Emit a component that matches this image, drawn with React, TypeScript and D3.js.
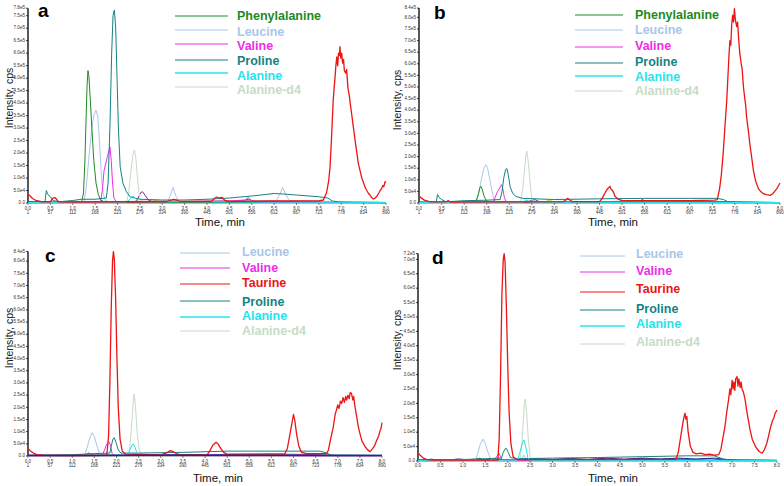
import React from 'react';
import * as d3 from 'd3';

type Pt = [number, number];

// ---------- shared tick labels ----------
const minuteTicks = [0, 0.5, 1, 1.5, 2, 2.5, 3, 3.5, 4, 4.5, 5, 5.5, 6, 6.5, 7, 7.5, 8];
const minuteLabels = ['0.0', '0.5', '1.0', '1.5', '2.0', '2.5', '3.0', '3.5', '4.0', '4.5', '5.0', '5.5', '6.0', '6.5', '7.0', '7.5', '8.0'];
const scanLabels = ['1', '57', '112', '168', '223', '279', '334', '390', '445', '501', '556', '612', '667', '723', '778', '834', '890'];

const yTicksA = [0, 0.5, 1, 1.5, 2, 2.5, 3, 3.5, 4, 4.5, 5, 5.5, 6, 6.5, 7, 7.5, 7.8];
const yTicksB = [0, 0.5, 1, 1.5, 2, 2.5, 3, 3.5, 4, 4.5, 5, 5.5, 6, 6.5, 7, 7.5, 8, 8.4];
const yTicksC = [0, 0.5, 1, 1.5, 2, 2.5, 3, 3.5, 4, 4.5, 5, 5.5, 6, 6.5, 7, 7.5, 8, 8.4];
const yTicksD = [0, 0.5, 1, 1.5, 2, 2.5, 3, 3.5, 4, 4.5, 5, 5.5, 6, 6.5, 7, 7.2];

const legendAB = ['Phenylalanine', 'Leucine', 'Valine', 'Proline', 'Alanine', 'Alanine-d4'];
const legendCD = ['Leucine', 'Valine', 'Taurine', 'Proline', 'Alanine', 'Alanine-d4'];

// ---------- panel a (intensity in 1e5 cps) ----------
const aNavy: Pt[] = [[0, 0.05], [0.3, 0.03], [0.8, 0.04], [1.5, 0.05], [2.2, 0.04], [3, 0.06], [4, 0.05], [5, 0.07], [6, 0.06], [6.8, 0.05], [7.2, 0.03], [8, 0.02]];
const aPurple: Pt[] = [[0, 0.03], [1.2, 0.04], [2.4, 0.05], [2.46, 0.2], [2.52, 0.42], [2.56, 0.45], [2.62, 0.3], [2.7, 0.1], [2.8, 0.05], [3.5, 0.06], [4.5, 0.08], [4.85, 0.1], [4.92, 0.15], [5.0, 0.08], [6, 0.06], [6.8, 0.05], [7.2, 0.02], [8, 0.02]];
const aLime: Pt[] = [[0, 0.01], [2.0, 0.02], [4, 0.02], [6, 0.02], [8, 0.01]];
const aYellow: Pt[] = [[2.7, 0.02], [2.8, 0.08], [2.86, 0.12], [2.92, 0.06], [3.0, 0.02]];
const aTau: Pt[] = [[0, 0.35], [0.05, 0.28], [0.1, 0.18], [0.18, 0.1], [0.3, 0.05], [0.5, 0.05], [0.56, 0.2], [0.6, 0.22], [0.64, 0.15], [0.68, 0.05], [1.0, 0.04], [2.0, 0.05], [3.1, 0.06], [3.2, 0.12], [3.26, 0.15], [3.32, 0.12], [3.4, 0.06], [4.1, 0.06], [4.16, 0.18], [4.22, 0.24], [4.28, 0.2], [4.34, 0.22], [4.4, 0.1], [4.5, 0.06], [5.5, 0.08], [6.5, 0.08], [6.6, 0.12], [6.67, 0.4], [6.72, 0.9], [6.75, 1.45], [6.78, 2.5], [6.8, 3.3], [6.82, 4.1], [6.84, 4.6], [6.86, 5.0], [6.88, 5.5], [6.9, 5.85], [6.92, 5.5], [6.94, 6.0], [6.96, 5.9], [6.97, 6.26], [6.99, 5.8], [7.01, 6.0], [7.03, 5.6], [7.05, 5.75], [7.07, 5.3], [7.1, 5.2], [7.12, 5.35], [7.15, 4.6], [7.18, 4.3], [7.2, 4.0], [7.23, 3.6], [7.27, 3.05], [7.31, 2.5], [7.35, 2.0], [7.38, 1.6], [7.42, 1.3], [7.46, 1.0], [7.5, 0.8], [7.54, 0.6], [7.57, 0.5], [7.61, 0.38], [7.65, 0.3], [7.69, 0.2], [7.72, 0.16], [7.76, 0.2], [7.8, 0.28], [7.84, 0.4], [7.87, 0.5], [7.9, 0.58], [7.93, 0.7], [7.95, 0.65], [7.98, 0.85], [8.0, 0.82]];
const aPhe: Pt[] = [[0, 0.02], [0.5, 0.02], [1.0, 0.03], [1.2, 0.05], [1.24, 0.4], [1.27, 1.6], [1.3, 3.5], [1.32, 4.7], [1.34, 5.3], [1.36, 5.1], [1.39, 4.2], [1.43, 2.9], [1.47, 1.7], [1.52, 0.8], [1.57, 0.35], [1.62, 0.12], [1.7, 0.05], [2.0, 0.03], [3.0, 0.02], [5.0, 0.02], [7.0, 0.02], [8.0, 0.01]];
const aLeu: Pt[] = [[0, 0.02], [1.0, 0.03], [1.25, 0.05], [1.3, 0.6], [1.36, 1.8], [1.42, 2.9], [1.47, 3.5], [1.52, 3.72], [1.56, 3.45], [1.6, 2.4], [1.64, 1.1], [1.68, 0.35], [1.74, 0.08], [1.85, 0.05], [3.12, 0.05], [3.18, 0.3], [3.24, 0.62], [3.3, 0.3], [3.37, 0.06], [5.55, 0.1], [5.63, 0.35], [5.69, 0.62], [5.76, 0.35], [5.84, 0.1], [7, 0.05], [8, 0.03]];
const aVal: Pt[] = [[0, 0.01], [1.0, 0.02], [1.62, 0.03], [1.66, 0.5], [1.7, 1.3], [1.74, 1.6], [1.78, 1.9], [1.81, 2.1], [1.83, 2.25], [1.86, 1.7], [1.89, 0.8], [1.92, 0.2], [1.97, 0.05], [3.0, 0.05], [4.5, 0.08], [4.85, 0.12], [4.92, 0.22], [5.0, 0.1], [5.2, 0.03], [8, 0.02]];
const aPro: Pt[] = [[0, 0.05], [0.38, 0.05], [0.41, 0.5], [0.44, 0.35], [0.5, 0.25], [0.56, 0.1], [0.7, 0.05], [1.0, 0.1], [1.2, 0.15], [1.5, 0.15], [1.75, 0.2], [1.79, 0.8], [1.83, 3.0], [1.87, 6.0], [1.9, 7.5], [1.93, 7.73], [1.96, 7.0], [1.99, 5.0], [2.02, 3.0], [2.06, 1.45], [2.12, 0.8], [2.2, 0.45], [2.28, 0.25], [2.5, 0.15], [3.0, 0.12], [3.5, 0.12], [4.0, 0.15], [4.5, 0.2], [5.0, 0.28], [5.3, 0.34], [5.5, 0.38], [5.7, 0.36], [6.0, 0.32], [6.5, 0.25], [6.7, 0.2], [6.8, 0.08], [7.0, 0.03], [8, 0.02]];
const aAla: Pt[] = [[0, 0.02], [2.2, 0.03], [2.28, 0.15], [2.34, 0.28], [2.4, 0.2], [2.46, 0.05], [8, 0.02]];
const aAlaD4: Pt[] = [[0, 0.01], [2.2, 0.02], [2.25, 0.4], [2.3, 1.3], [2.35, 2.0], [2.38, 2.12], [2.41, 1.8], [2.45, 0.9], [2.5, 0.2], [2.56, 0.03], [8, 0.02]];

// ---------- panel b ----------
const bNavy: Pt[] = [[0, 0.04], [0.5, 0.03], [1.5, 0.05], [3, 0.05], [4.5, 0.06], [6, 0.06], [6.9, 0.04], [8, 0.02]];
const bPurple: Pt[] = [[0, 0.03], [2.4, 0.04], [2.5, 0.12], [2.58, 0.14], [2.66, 0.06], [4.0, 0.06], [4.9, 0.08], [4.95, 0.15], [5.02, 0.07], [6.8, 0.05], [7.1, 0.02], [8, 0.02]];
const bLime: Pt[] = [[0, 0.01], [3, 0.02], [5, 0.02], [8, 0.01]];
const bYellow: Pt[] = [[2.75, 0.02], [2.85, 0.1], [2.92, 0.12], [3.0, 0.02]];
const bTau: Pt[] = [[0, 0.3], [0.05, 0.22], [0.12, 0.12], [0.25, 0.05], [0.6, 0.05], [0.65, 0.1], [0.7, 0.04], [2.0, 0.05], [3.2, 0.06], [3.26, 0.14], [3.3, 0.2], [3.34, 0.13], [3.4, 0.06], [4.0, 0.06], [4.06, 0.2], [4.1, 0.35], [4.12, 0.42], [4.14, 0.5], [4.16, 0.55], [4.18, 0.62], [4.2, 0.65], [4.23, 0.72], [4.25, 0.63], [4.26, 0.6], [4.28, 0.55], [4.3, 0.5], [4.32, 0.42], [4.34, 0.3], [4.4, 0.18], [4.5, 0.1], [5, 0.1], [6, 0.1], [6.55, 0.12], [6.61, 0.15], [6.66, 0.6], [6.7, 1.2], [6.74, 2.13], [6.78, 3.3], [6.82, 4.43], [6.85, 5.6], [6.87, 6.4], [6.89, 7.0], [6.91, 6.8], [6.93, 7.7], [6.95, 8.09], [6.97, 7.8], [6.99, 8.38], [7.01, 7.9], [7.04, 7.6], [7.06, 7.8], [7.09, 6.9], [7.11, 6.44], [7.14, 6.0], [7.16, 5.8], [7.19, 5.0], [7.22, 4.5], [7.24, 4.2], [7.26, 3.7], [7.3, 3.1], [7.33, 2.57], [7.37, 2.0], [7.41, 1.41], [7.46, 0.95], [7.52, 0.62], [7.58, 0.48], [7.63, 0.4], [7.7, 0.36], [7.78, 0.33], [7.84, 0.4], [7.89, 0.52], [7.93, 0.62], [7.96, 0.72], [8.0, 0.86]];
const bPhe: Pt[] = [[0, 0.02], [1.2, 0.05], [1.27, 0.1], [1.31, 0.35], [1.35, 0.65], [1.37, 0.72], [1.4, 0.6], [1.44, 0.3], [1.5, 0.08], [1.6, 0.03], [8, 0.02]];
const bLeu: Pt[] = [[0, 0.02], [1.25, 0.05], [1.31, 0.3], [1.37, 0.9], [1.43, 1.45], [1.48, 1.65], [1.52, 1.5], [1.57, 1.0], [1.62, 0.5], [1.67, 0.1], [1.75, 0.03], [8, 0.02]];
const bVal: Pt[] = [[0, 0.02], [1.65, 0.05], [1.69, 0.25], [1.74, 0.5], [1.79, 0.65], [1.83, 0.79], [1.86, 0.6], [1.89, 0.25], [1.93, 0.05], [4.9, 0.05], [4.95, 0.15], [5.0, 0.05], [8, 0.02]];
const bPro: Pt[] = [[0, 0.03], [0.38, 0.03], [0.41, 0.37], [0.44, 0.25], [0.5, 0.15], [0.6, 0.05], [1.0, 0.1], [1.5, 0.12], [1.8, 0.15], [1.84, 0.5], [1.88, 1.1], [1.92, 1.45], [1.95, 1.48], [1.98, 1.2], [2.02, 0.7], [2.08, 0.4], [2.15, 0.28], [2.3, 0.2], [3, 0.15], [4, 0.18], [5, 0.2], [6, 0.2], [6.6, 0.2], [6.75, 0.15], [6.85, 0.05], [8, 0.02]];
const bAla: Pt[] = [[0, 0.02], [2.3, 0.03], [2.36, 0.12], [2.42, 0.1], [2.48, 0.03], [8, 0.02]];
const bAlaD4: Pt[] = [[0, 0.01], [2.25, 0.02], [2.3, 0.6], [2.34, 1.5], [2.37, 2.1], [2.39, 2.24], [2.42, 1.8], [2.46, 0.9], [2.5, 0.2], [2.55, 0.03], [8, 0.02]];

// ---------- panel c ----------
const cNavy: Pt[] = [[0, 0.02], [1, 0.02], [2.5, 0.03], [4, 0.03], [5.5, 0.03], [7, 0.02], [8, 0.02]];
const cPurple: Pt[] = [[0, 0.03], [2.5, 0.04], [3.0, 0.06], [4.5, 0.06], [5.5, 0.08], [6.5, 0.06], [6.9, 0.03], [8, 0.02]];
const cGreen: Pt[] = [[0, 0.02], [1.3, 0.02], [1.34, 0.1], [1.38, 0.13], [1.42, 0.05], [1.5, 0.02], [8, 0.02]];
const cLeu: Pt[] = [[0, 0.02], [1.28, 0.03], [1.33, 0.3], [1.39, 0.7], [1.45, 0.96], [1.5, 0.8], [1.56, 0.4], [1.62, 0.08], [1.7, 0.02], [8, 0.02]];
const cVal: Pt[] = [[0, 0.01], [1.68, 0.02], [1.73, 0.25], [1.78, 0.5], [1.83, 0.59], [1.87, 0.4], [1.9, 0.1], [1.95, 0.02], [8, 0.01]];
const cTau: Pt[] = [[0, 0.3], [0.05, 0.22], [0.12, 0.12], [0.2, 0.06], [0.35, 0.03], [1.0, 0.02], [1.78, 0.03], [1.82, 0.8], [1.85, 3.0], [1.88, 6.0], [1.91, 8.0], [1.93, 8.39], [1.95, 8.1], [1.98, 6.5], [2.01, 4.0], [2.04, 2.0], [2.08, 0.7], [2.13, 0.2], [2.2, 0.08], [3.0, 0.05], [3.12, 0.12], [3.18, 0.18], [3.22, 0.22], [3.28, 0.18], [3.35, 0.1], [3.45, 0.05], [4.05, 0.05], [4.12, 0.25], [4.18, 0.45], [4.25, 0.56], [4.3, 0.48], [4.36, 0.3], [4.42, 0.15], [4.5, 0.08], [5.8, 0.08], [5.86, 0.3], [5.92, 0.9], [5.97, 1.4], [6.0, 1.71], [6.03, 1.45], [6.07, 0.9], [6.12, 0.4], [6.18, 0.15], [6.3, 0.1], [6.75, 0.1], [6.79, 0.25], [6.84, 0.7], [6.9, 1.2], [6.94, 1.7], [6.97, 1.89], [7.0, 2.1], [7.03, 1.95], [7.06, 2.25], [7.09, 2.16], [7.12, 2.4], [7.15, 2.2], [7.18, 2.45], [7.2, 2.3], [7.23, 2.5], [7.26, 2.35], [7.28, 2.6], [7.31, 2.57], [7.34, 2.3], [7.36, 2.45], [7.39, 2.02], [7.43, 1.6], [7.46, 1.25], [7.5, 0.93], [7.55, 0.6], [7.62, 0.38], [7.68, 0.24], [7.73, 0.18], [7.78, 0.28], [7.84, 0.45], [7.88, 0.65], [7.92, 0.8], [7.95, 1.0], [7.98, 1.15], [8.0, 1.37]];
const cPro: Pt[] = [[0, 0.03], [1.0, 0.05], [1.5, 0.1], [1.85, 0.12], [1.88, 0.4], [1.92, 0.7], [1.95, 0.75], [1.99, 0.55], [2.04, 0.25], [2.1, 0.12], [2.5, 0.12], [3.5, 0.15], [4.5, 0.2], [5.5, 0.2], [6.6, 0.2], [6.75, 0.12], [6.85, 0.04], [8, 0.03]];
const cAla: Pt[] = [[0, 0.02], [2.25, 0.03], [2.3, 0.25], [2.35, 0.45], [2.38, 0.49], [2.42, 0.35], [2.47, 0.08], [2.55, 0.02], [8, 0.02]];
const cAlaD4: Pt[] = [[0, 0.01], [2.27, 0.02], [2.31, 0.5], [2.35, 1.5], [2.38, 2.3], [2.4, 2.55], [2.43, 2.0], [2.47, 0.9], [2.52, 0.2], [2.58, 0.03], [8, 0.02]];

// ---------- panel d ----------
const dNavy: Pt[] = [[0, 0.03], [0.3, 0.06], [0.6, 0.02], [0.9, 0.07], [1.2, 0.03], [1.6, 0.06], [2.2, 0.04], [2.6, 0.08], [3.0, 0.05], [3.4, 0.09], [3.8, 0.05], [4.2, 0.1], [4.6, 0.06], [5.0, 0.1], [5.4, 0.07], [5.8, 0.1], [6.2, 0.07], [6.6, 0.1], [6.9, 0.05], [7.2, 0.03], [8, 0.02]];
const dPurple: Pt[] = [[0, 0.02], [0.4, 0.05], [0.8, 0.03], [1.3, 0.06], [2.0, 0.03], [2.4, 0.06], [2.9, 0.03], [3.3, 0.07], [3.7, 0.04], [4.1, 0.08], [4.5, 0.04], [4.9, 0.09], [5.3, 0.05], [5.7, 0.08], [6.1, 0.05], [6.5, 0.08], [6.9, 0.03], [8, 0.02]];
const dGreen: Pt[] = [[0, 0.02], [0.5, 0.05], [0.9, 0.02], [1.3, 0.06], [1.38, 0.1], [1.45, 0.03], [2.1, 0.05], [2.8, 0.02], [3.5, 0.05], [4.5, 0.03], [5.5, 0.05], [6.5, 0.03], [8, 0.02]];
const dLeu: Pt[] = [[0, 0.02], [1.28, 0.03], [1.33, 0.25], [1.39, 0.6], [1.45, 0.76], [1.5, 0.6], [1.56, 0.3], [1.62, 0.06], [1.7, 0.02], [2.3, 0.03], [2.36, 0.2], [2.42, 0.03], [8, 0.02]];
const dVal: Pt[] = [[0, 0.01], [1.7, 0.02], [1.75, 0.15], [1.8, 0.27], [1.84, 0.15], [1.88, 0.03], [8, 0.01]];
const dTau: Pt[] = [[0, 0.28], [0.05, 0.2], [0.12, 0.1], [0.2, 0.05], [0.35, 0.03], [1.78, 0.03], [1.81, 0.8], [1.84, 3.0], [1.87, 5.8], [1.9, 7.0], [1.92, 7.2], [1.94, 6.9], [1.97, 5.3], [2.0, 3.3], [2.03, 1.7], [2.07, 0.6], [2.12, 0.15], [2.2, 0.05], [5.75, 0.06], [5.8, 0.3], [5.86, 0.9], [5.9, 1.3], [5.93, 1.55], [5.95, 1.66], [5.97, 1.45], [5.99, 1.55], [6.02, 1.0], [6.07, 0.5], [6.13, 0.3], [6.2, 0.25], [6.3, 0.27], [6.4, 0.22], [6.5, 0.24], [6.6, 0.2], [6.7, 0.22], [6.75, 0.4], [6.8, 0.85], [6.84, 1.19], [6.88, 1.7], [6.92, 2.12], [6.95, 2.5], [6.97, 2.3], [7.0, 2.81], [7.02, 2.5], [7.04, 2.75], [7.06, 2.45], [7.08, 2.85], [7.11, 2.93], [7.13, 2.6], [7.15, 2.85], [7.18, 2.55], [7.2, 2.75], [7.22, 2.5], [7.25, 2.4], [7.29, 2.12], [7.33, 1.7], [7.37, 1.35], [7.4, 1.08], [7.45, 0.75], [7.52, 0.5], [7.6, 0.33], [7.67, 0.27], [7.72, 0.4], [7.77, 0.6], [7.81, 0.85], [7.86, 1.2], [7.9, 1.4], [7.93, 1.5], [7.96, 1.66], [8.0, 1.77]];
const dPro: Pt[] = [[0, 0.03], [1.0, 0.05], [1.5, 0.08], [1.86, 0.1], [1.9, 0.3], [1.94, 0.42], [1.97, 0.44], [2.01, 0.3], [2.06, 0.12], [2.2, 0.08], [3, 0.1], [4, 0.12], [5, 0.15], [6, 0.18], [6.6, 0.18], [6.75, 0.1], [6.85, 0.03], [8, 0.02]];
const dAla: Pt[] = [[0, 0.02], [2.22, 0.03], [2.27, 0.3], [2.32, 0.6], [2.36, 0.73], [2.4, 0.5], [2.45, 0.1], [2.52, 0.02], [8, 0.02]];
const dAlaD4: Pt[] = [[0, 0.01], [2.27, 0.02], [2.31, 0.5], [2.35, 1.5], [2.37, 2.0], [2.39, 2.15], [2.42, 1.7], [2.46, 0.7], [2.5, 0.15], [2.56, 0.02], [8, 0.01]];

// ---------- styles ----------
const COL: Record<string, string> = {
  Phenylalanine: '#1e8a24',
  Leucine: '#a9c6ea',
  Valine: '#ee2ee8',
  Taurine: '#ee1414',
  Proline: '#158282',
  Alanine: '#26e4ec',
  'Alanine-d4': '#c6dcc6',
  purple: '#7b2a9c',
  navy: '#1c2a90',
  lime: '#7cc242',
  yellow: '#e6d028',
  green: '#2e7d32',
};

type Series = { key: string; pts: Pt[]; w?: number };
type PanelCfg = {
  letter: string;
  xL: number; xR: number; yBase: number; yTop: number; yMax: number;
  yTicks: number[]; scans: boolean;
  series: Series[];
  legend: string[];
  legLineX: [number, number]; legTextX: number; legTextY: number[]; legLineY: number[];
  letterPos: [number, number];
  yLabelPos: [number, number];
  timeLabelPos: [number, number];
};

const panels: PanelCfg[] = [
  {
    letter: 'a', xL: 28, xR: 386, yBase: 203, yTop: 8.2, yMax: 7.8, yTicks: yTicksA, scans: true,
    series: [
      { key: 'lime', pts: aLime }, { key: 'navy', pts: aNavy }, { key: 'purple', pts: aPurple }, { key: 'yellow', pts: aYellow },
      { key: 'Alanine-d4', pts: aAlaD4 }, { key: 'Leucine', pts: aLeu }, { key: 'Phenylalanine', pts: aPhe },
      { key: 'Valine', pts: aVal }, { key: 'Proline', pts: aPro }, { key: 'Alanine', pts: aAla }, { key: 'Taurine', pts: aTau, w: 1.3 },
    ],
    legend: legendAB, legLineX: [175, 228], legTextX: 237,
    legTextY: [17, 33, 47, 62, 77, 91], legLineY: [16, 30, 44, 60, 73, 87],
    letterPos: [38, 17], yLabelPos: [10, 98], timeLabelPos: [220, 223],
  },
  {
    letter: 'b', xL: 419, xR: 780, yBase: 203, yTop: 8.1, yMax: 8.4, yTicks: yTicksB, scans: true,
    series: [
      { key: 'lime', pts: bLime }, { key: 'navy', pts: bNavy }, { key: 'purple', pts: bPurple }, { key: 'yellow', pts: bYellow },
      { key: 'Alanine-d4', pts: bAlaD4 }, { key: 'Leucine', pts: bLeu }, { key: 'Phenylalanine', pts: bPhe },
      { key: 'Valine', pts: bVal }, { key: 'Proline', pts: bPro }, { key: 'Alanine', pts: bAla }, { key: 'Taurine', pts: bTau, w: 1.3 },
    ],
    legend: legendAB, legLineX: [575, 623], legTextX: 635,
    legTextY: [16, 31, 47, 63, 78, 92], legLineY: [15, 30, 47, 63, 76, 91],
    letterPos: [434, 19], yLabelPos: [398, 100], timeLabelPos: [613, 223],
  },
  {
    letter: 'c', xL: 28, xR: 382, yBase: 456, yTop: 251.4, yMax: 8.4, yTicks: yTicksC, scans: true,
    series: [
      { key: 'purple', pts: cPurple }, { key: 'green', pts: cGreen },
      { key: 'Alanine-d4', pts: cAlaD4 }, { key: 'Leucine', pts: cLeu }, { key: 'Valine', pts: cVal },
      { key: 'Proline', pts: cPro }, { key: 'Alanine', pts: cAla }, { key: 'Taurine', pts: cTau, w: 1.3 },
      { key: 'navy', pts: cNavy, w: 1.6 },
    ],
    legend: legendCD, legLineX: [180, 230], legTextX: 242,
    legTextY: [253, 269, 284, 303, 317, 332], legLineY: [253, 268, 284, 301, 317, 331],
    letterPos: [45, 262], yLabelPos: [10, 338], timeLabelPos: [218, 479],
  },
  {
    letter: 'd', xL: 418, xR: 777, yBase: 461, yTop: 253.6, yMax: 7.2, yTicks: yTicksD, scans: false,
    series: [
      { key: 'green', pts: dGreen }, { key: 'purple', pts: dPurple }, { key: 'navy', pts: dNavy },
      { key: 'Alanine-d4', pts: dAlaD4 }, { key: 'Leucine', pts: dLeu }, { key: 'Valine', pts: dVal },
      { key: 'Proline', pts: dPro }, { key: 'Alanine', pts: dAla }, { key: 'Taurine', pts: dTau, w: 1.3 },
    ],
    legend: legendCD, legLineX: [580, 625], legTextX: 636,
    legTextY: [255, 272, 290, 310, 325, 343], legLineY: [256, 272, 292, 310, 326, 344],
    letterPos: [432, 264], yLabelPos: [398, 340], timeLabelPos: [613, 479],
  },
];

const fmtY = (v: number) => (v === 0 ? '0.0' : v === 0.5 ? '5.0e4' : `${v.toFixed(1)}e5`);

function Panel({ p }: { p: PanelCfg }) {
  const x = d3.scaleLinear().domain([0, 8]).range([p.xL, p.xR]);
  const y = d3.scaleLinear().domain([0, p.yMax]).range([p.yBase, p.yTop]);
  const line = d3.line<Pt>().x((d) => x(d[0])).y((d) => y(d[1]));
  return (
    <g>
      {/* y axis */}
      <line x1={p.xL} x2={p.xL} y1={p.yBase} y2={p.yTop} stroke="#111" strokeWidth={1.4} />
      {p.yTicks.map((t) => (
        <g key={t}>
          <line x1={p.xL - 2} x2={p.xL} y1={y(t)} y2={y(t)} stroke="#111" strokeWidth={0.8} />
          <text x={p.xL - 3} y={y(t)} fontSize={4.6} fill="#333" textAnchor="end" dominantBaseline="middle" fontFamily="Liberation Sans, Arial, sans-serif">{fmtY(t)}</text>
        </g>
      ))}
      {/* x axis */}
      <line x1={p.xL} x2={p.xR} y1={p.yBase} y2={p.yBase} stroke="#555" strokeWidth={0.8} />
      {minuteTicks.map((t, i) => (
        <g key={t}>
          <line x1={x(t)} x2={x(t)} y1={p.yBase} y2={p.yBase + 2} stroke="#333" strokeWidth={0.6} />
          <text x={x(t)} y={p.yBase + (p.scans ? 5.5 : 5)} fontSize={4.5} fill="#333" textAnchor="middle" dominantBaseline="middle" fontFamily="Liberation Sans, Arial, sans-serif">{minuteLabels[i]}</text>
          {p.scans && (
            <text x={x(t)} y={p.yBase + 9.5} fontSize={4.5} fill="#333" textAnchor="middle" dominantBaseline="middle" fontFamily="Liberation Sans, Arial, sans-serif">{scanLabels[i]}</text>
          )}
        </g>
      ))}
      {/* traces */}
      {p.series.map((s, i) => (
        <path key={i} d={line(s.pts) || ''} fill="none" stroke={COL[s.key]} strokeWidth={s.w ?? 1} strokeLinejoin="round" />
      ))}
      {/* legend */}
      {p.legend.map((name, i) => (
        <g key={name}>
          <line x1={p.legLineX[0]} x2={p.legLineX[1]} y1={p.legLineY[i]} y2={p.legLineY[i]} stroke={COL[name]} strokeWidth={name === 'Alanine' ? 1.6 : 1} />
          <text x={p.legTextX} y={p.legTextY[i]} fontSize={12.5} fontWeight="bold" fill={COL[name]} dominantBaseline="middle" fontFamily="Liberation Sans, Arial, sans-serif">{name}</text>
        </g>
      ))}
      {/* labels */}
      <text x={p.letterPos[0]} y={p.letterPos[1]} fontSize={19} fontWeight="bold" fill="#000" fontFamily="Liberation Sans, Arial, sans-serif">{p.letter}</text>
      <text transform={`translate(${p.yLabelPos[0]},${p.yLabelPos[1]}) rotate(-90)`} fontSize={10.5} fill="#222" textAnchor="middle" dominantBaseline="middle" fontFamily="Liberation Sans, Arial, sans-serif">Intensity, cps</text>
      <text x={p.timeLabelPos[0]} y={p.timeLabelPos[1]} fontSize={11.5} fill="#111" textAnchor="middle" dominantBaseline="middle" fontFamily="Liberation Sans, Arial, sans-serif">Time, min</text>
    </g>
  );
}

export default function App() {
  return (
    <svg width={784} height={486} viewBox="0 0 784 486" style={{ position: 'absolute', left: 0, top: 0, background: '#fff' }}>
      <rect x={0} y={0} width={784} height={486} fill="#fff" />
      {panels.map((p) => (
        <Panel key={p.letter} p={p} />
      ))}
    </svg>
  );
}
